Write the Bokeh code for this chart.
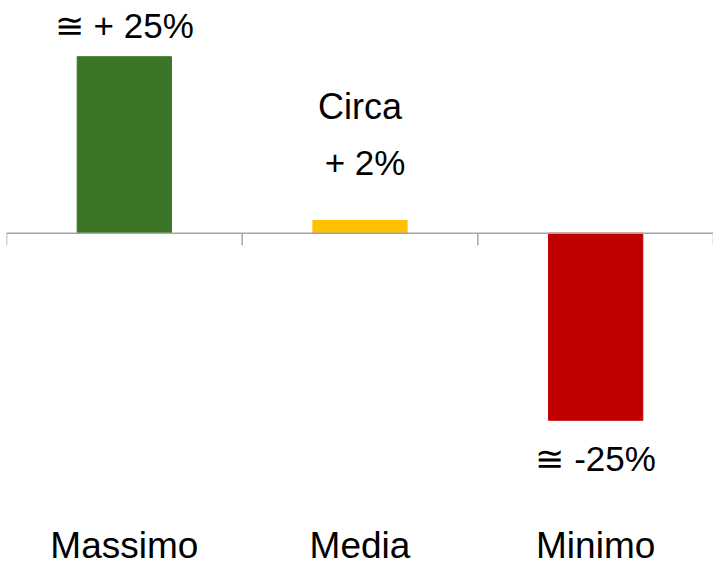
from bokeh.plotting import figure
from bokeh.models import ColumnDataSource, FactorRange, Range1d, Span
from bokeh.core.properties import value
from bokeh.embed import file_html
from bokeh.resources import INLINE

# ---- data ----
categories = ["Massimo", "Media", "Minimo"]
values = [25.0, 1.8, -26.5]
colors = ["#3b7528", "#ffc000", "#c00000"]
value_labels = ["\u2245 + 25%", "+ 2%", "\u2245 -25%"]
media_note = "Circa"

FONT = value("Liberation Sans")
PX_PER_UNIT = 7.06
BASE_FIX = -14  # svg alphabetic baseline correction (px)

p = figure(
    x_range=FactorRange(*categories, range_padding=0),
    y_range=Range1d(-47.49, 32.96),
    width=713, height=568,
    output_backend="svg", toolbar_location=None,
    min_border=0, min_border_left=6, outline_line_color=None,
)
p.xaxis.visible = False
p.yaxis.visible = False
p.grid.visible = False
p.background_fill_color = "white"
p.border_fill_color = "white"

label_offsets = []
label_xoffsets = []
for v in values:
    if v > 5:
        label_offsets.append(-17 + BASE_FIX)
        label_xoffsets.append(0)
    elif v >= 0:
        label_offsets.append(-43.5 + BASE_FIX)
        label_xoffsets.append(5)
    else:
        label_offsets.append(52.5 + BASE_FIX)
        label_xoffsets.append(0)

src = ColumnDataSource(dict(cat=categories, val=values, color=colors,
                            lab=value_labels, loff=label_offsets, xoff=label_xoffsets))
p.vbar(x="cat", top="val", bottom=0, width=0.40, color="color", source=src)

# zero axis line with category boundary ticks
p.add_layout(Span(location=0, dimension="width", line_color="#a6a6a6", line_width=1.5))
tick_len = 12 / PX_PER_UNIT
bx = [(categories[0], -0.5)] + [(c, 0.5) for c in categories]
p.segment(x0=bx, y0=[0] * len(bx), x1=bx, y1=[-tick_len] * len(bx),
          line_color="#a6a6a6", line_width=1.5)

# value labels
p.text(x="cat", y="val", text="lab", source=src, y_offset="loff", x_offset="xoff",
       text_align="center", text_baseline="alphabetic",
       text_font=FONT, text_font_size="35px", text_color="black")
p.text(x=[categories[1]], y=[values[1]], text=[media_note], y_offset=-99.7 + BASE_FIX,
       text_align="center", text_baseline="alphabetic",
       text_font=FONT, text_font_size="36px", text_color="black")

# category labels at bottom
p.text(x=categories, y=[p.y_range.start] * len(categories), text=categories,
       y_offset=-9 + BASE_FIX, text_align="center", text_baseline="alphabetic",
       text_font=FONT, text_font_size="37px", text_color="black")

open("out.html", "w").write(file_html(p, INLINE))
